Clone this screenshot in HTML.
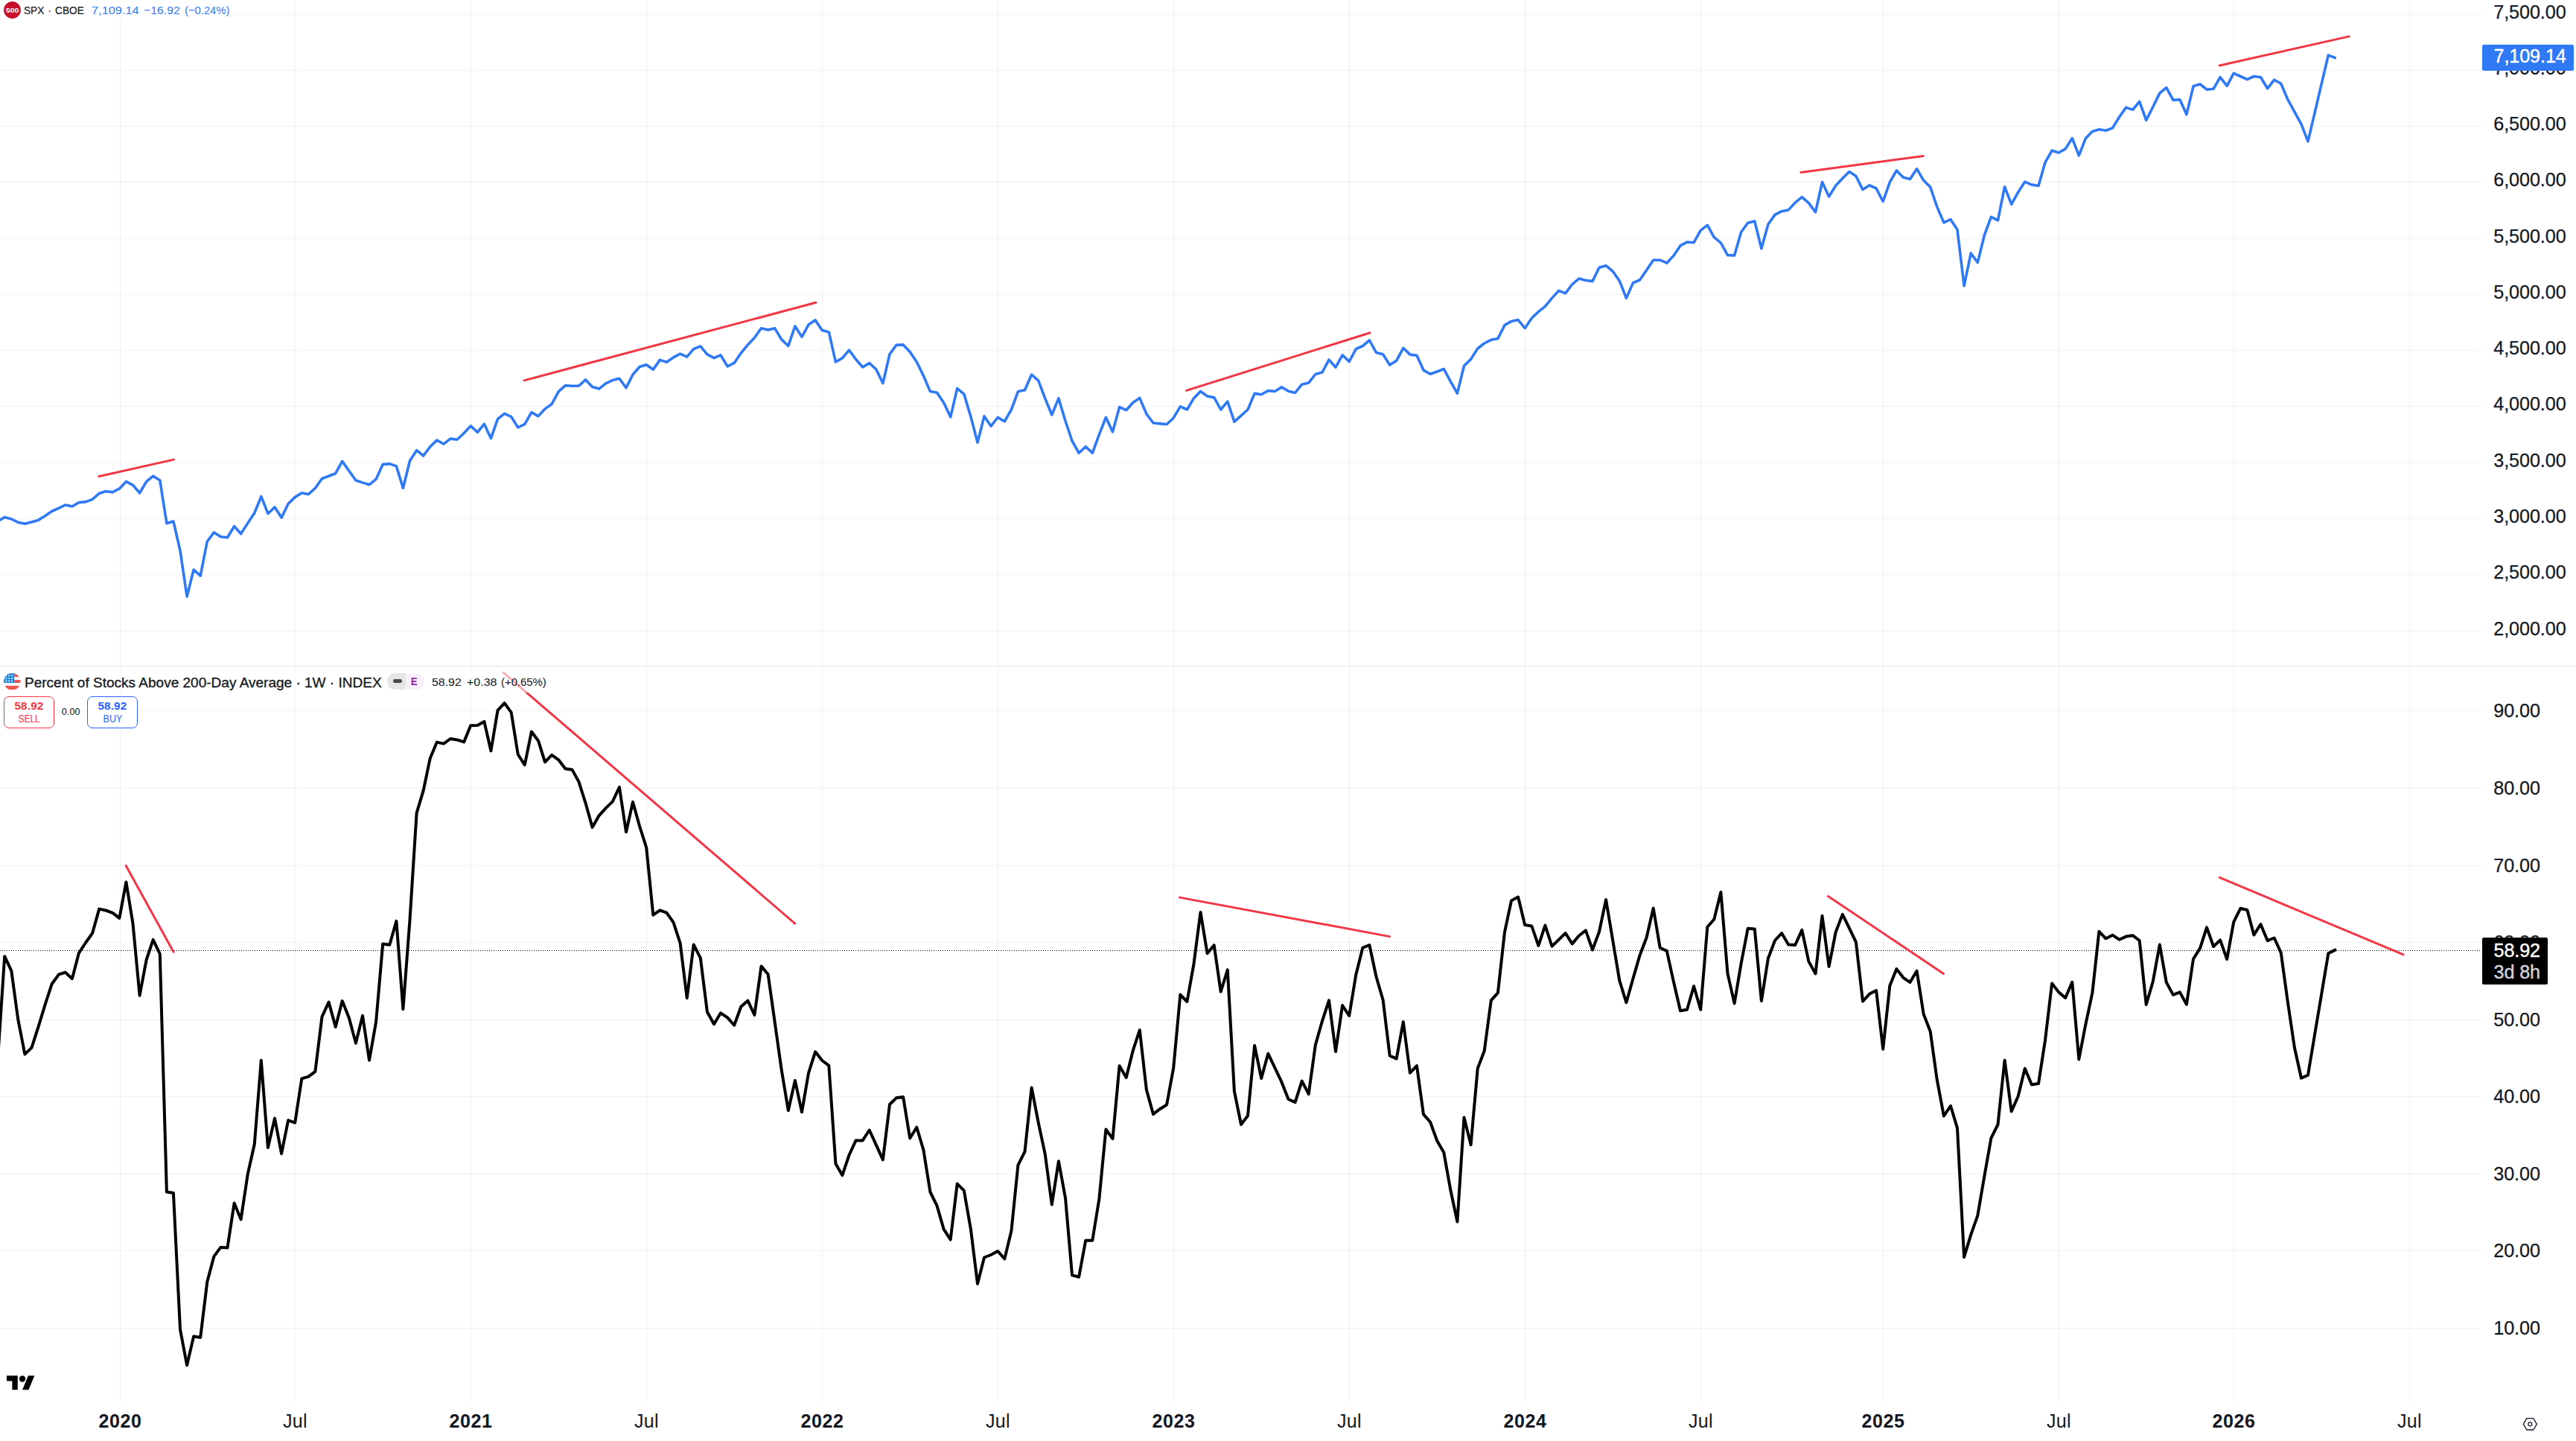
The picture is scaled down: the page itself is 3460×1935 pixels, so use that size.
<!DOCTYPE html>
<html lang="en"><head><meta charset="utf-8"><title>SPX vs Percent of Stocks Above 200-Day Average</title>
<style>
html,body{margin:0;padding:0;background:#fff;}
body{width:3460px;height:1935px;overflow:hidden;position:relative;font-family:"Liberation Sans",sans-serif;color:#131722;}
#chart{position:absolute;left:0;top:0;width:3460px;height:1935px;}
.pl{position:absolute;left:3349.3px;font-size:25.2px;line-height:30px;height:30px;white-space:nowrap;letter-spacing:-0.1px;-webkit-text-stroke:0.25px #131722;}
.tl{position:absolute;top:1893px;width:200px;margin-left:-100px;text-align:center;font-size:25px;line-height:30px;white-space:nowrap;letter-spacing:0.3px;}
.tl.y{font-weight:bold;letter-spacing:0.6px;}
.badge{position:absolute;left:3334px;color:#fff;font-size:25.2px;border-radius:2px;box-sizing:border-box;white-space:nowrap;letter-spacing:-0.1px;-webkit-text-stroke:0.4px currentColor;}
.leg{position:absolute;white-space:nowrap;}
.sx{display:inline-block;transform-origin:0 50%;}
.cx{display:inline-block;transform-origin:50% 50%;}
</style></head><body>
<svg id="chart" width="3460" height="1935" viewBox="0 0 3460 1935">
<g fill="rgba(42,46,57,0.065)">
<rect x="161" y="0" width="1" height="1884"/>
<rect x="396" y="0" width="1" height="1884"/>
<rect x="632" y="0" width="1" height="1884"/>
<rect x="868" y="0" width="1" height="1884"/>
<rect x="1104" y="0" width="1" height="1884"/>
<rect x="1340" y="0" width="1" height="1884"/>
<rect x="1576" y="0" width="1" height="1884"/>
<rect x="1812" y="0" width="1" height="1884"/>
<rect x="2048" y="0" width="1" height="1884"/>
<rect x="2284" y="0" width="1" height="1884"/>
<rect x="2529" y="0" width="1" height="1884"/>
<rect x="2765" y="0" width="1" height="1884"/>
<rect x="3000" y="0" width="1" height="1884"/>
<rect x="3236" y="0" width="1" height="1884"/>
<rect x="0" y="19" width="3333" height="1"/>
<rect x="0" y="94" width="3333" height="1"/>
<rect x="0" y="169" width="3333" height="1"/>
<rect x="0" y="244" width="3333" height="1"/>
<rect x="0" y="320" width="3333" height="1"/>
<rect x="0" y="395" width="3333" height="1"/>
<rect x="0" y="470" width="3333" height="1"/>
<rect x="0" y="545" width="3333" height="1"/>
<rect x="0" y="621" width="3333" height="1"/>
<rect x="0" y="696" width="3333" height="1"/>
<rect x="0" y="771" width="3333" height="1"/>
<rect x="0" y="847" width="3333" height="1"/>
<rect x="0" y="954" width="3333" height="1"/>
<rect x="0" y="1058" width="3333" height="1"/>
<rect x="0" y="1162" width="3333" height="1"/>
<rect x="0" y="1265" width="3333" height="1"/>
<rect x="0" y="1369" width="3333" height="1"/>
<rect x="0" y="1472" width="3333" height="1"/>
<rect x="0" y="1576" width="3333" height="1"/>
<rect x="0" y="1679" width="3333" height="1"/>
<rect x="0" y="1783" width="3333" height="1"/>
</g>
<rect x="0" y="894" width="3460" height="1" fill="#E0E3EB"/>
<line x1="0" y1="1276.5" x2="3333" y2="1276.5" stroke="#000" stroke-width="1" stroke-dasharray="1 2" shape-rendering="crispEdges"/>
<polyline fill="none" stroke="#2F79F5" stroke-width="3.6" stroke-linejoin="round" stroke-linecap="round" points="-2.9,699.8 6.2,694.6 15.3,697.0 24.3,701.4 33.4,703.3 42.5,700.9 51.5,698.4 60.6,692.8 69.7,686.5 78.8,682.3 87.8,678.1 96.9,680.0 106.0,674.8 115.0,673.9 124.1,670.6 133.2,662.5 142.2,659.7 151.3,660.9 160.4,656.2 169.4,646.7 178.5,651.3 187.6,662.0 196.7,646.7 205.7,639.2 214.8,645.0 223.9,702.8 232.9,700.0 242.0,739.4 251.1,801.1 260.1,765.0 269.2,773.1 278.3,727.2 287.4,714.9 296.4,720.7 305.5,721.7 314.6,706.8 323.6,716.8 332.7,702.6 341.8,688.8 350.8,666.7 359.9,689.7 369.0,681.1 378.1,695.1 387.1,676.5 396.2,667.6 405.3,662.0 414.4,663.7 423.4,655.5 432.5,642.7 441.6,639.2 450.7,635.7 459.7,619.4 468.8,632.2 477.9,645.0 487.0,648.1 496.0,650.8 505.1,643.4 514.2,623.6 523.3,622.9 532.4,625.9 541.4,655.5 550.5,618.7 559.6,604.7 568.7,612.0 577.7,599.9 586.8,591.0 595.9,596.1 605.0,589.1 614.0,590.3 623.1,581.7 632.2,571.9 641.3,580.5 650.4,569.3 659.4,588.7 668.5,562.6 677.6,555.4 686.7,559.6 695.7,574.0 704.8,569.6 713.9,553.7 723.0,558.9 732.0,549.1 741.1,542.6 750.2,525.8 759.3,517.6 768.4,518.3 777.4,518.3 786.5,509.9 795.6,519.5 804.7,522.1 813.7,514.8 822.8,510.6 831.9,508.3 841.0,520.7 850.0,503.0 859.1,492.5 868.2,489.7 877.3,496.2 886.4,483.4 895.4,486.2 904.5,479.9 913.6,475.2 922.7,479.2 931.7,468.7 940.8,464.8 949.9,475.9 959.0,480.6 968.0,476.9 977.1,492.0 986.2,487.4 995.3,474.1 1004.4,462.9 1013.4,453.6 1022.5,440.8 1031.6,443.1 1040.7,440.8 1049.7,455.9 1058.8,464.5 1067.9,438.0 1077.0,452.4 1086.0,436.1 1095.1,429.8 1104.2,443.6 1113.3,445.9 1122.4,486.0 1131.4,480.9 1140.5,470.1 1149.6,482.5 1158.7,493.0 1167.7,487.6 1176.8,496.0 1185.9,514.6 1195.0,475.5 1204.0,463.4 1213.1,462.9 1222.2,472.5 1231.3,486.0 1240.4,504.6 1249.4,525.6 1258.5,527.2 1267.6,540.7 1276.7,560.1 1285.7,521.6 1294.8,529.1 1303.9,559.4 1313.0,594.3 1322.0,558.9 1331.1,572.2 1340.2,560.5 1349.3,565.9 1358.4,550.0 1367.4,525.8 1376.5,523.7 1385.6,503.0 1394.7,511.1 1403.7,534.9 1412.8,557.0 1421.9,534.9 1431.0,565.2 1440.0,592.0 1449.1,608.3 1458.2,599.7 1467.3,608.3 1476.4,583.4 1485.4,560.5 1494.5,579.9 1503.6,546.6 1512.7,550.7 1521.7,540.7 1530.8,534.4 1539.9,555.9 1549.0,568.0 1558.0,568.9 1567.1,569.8 1576.2,561.2 1585.3,545.9 1594.4,550.0 1603.4,534.9 1612.5,525.6 1621.6,531.9 1630.7,533.7 1639.7,550.0 1648.8,539.1 1657.9,566.3 1667.0,558.2 1676.0,550.0 1685.1,528.4 1694.2,529.7 1703.3,524.6 1712.4,525.5 1721.4,519.9 1730.5,525.3 1739.6,527.4 1748.7,516.2 1757.7,514.1 1766.8,502.5 1775.9,500.1 1785.0,483.1 1794.0,493.2 1803.1,476.8 1812.2,485.5 1821.3,468.7 1830.4,464.5 1839.4,457.0 1848.5,473.4 1857.6,475.7 1866.7,490.1 1875.7,484.3 1884.8,467.3 1893.9,476.1 1903.0,477.3 1912.0,497.1 1921.1,502.2 1930.2,499.0 1939.3,495.5 1948.4,512.3 1957.4,528.1 1966.5,491.3 1975.6,482.4 1984.7,468.0 1993.7,461.0 2002.8,456.3 2011.9,454.7 2021.0,436.6 2030.0,431.4 2039.1,429.6 2048.2,440.7 2057.3,427.2 2066.4,418.6 2075.4,411.4 2084.5,400.4 2093.6,390.4 2102.7,393.9 2111.7,381.8 2120.8,374.1 2129.9,376.5 2139.0,377.6 2148.0,359.2 2157.1,356.7 2166.2,364.3 2175.3,377.2 2184.4,400.4 2193.4,379.9 2202.5,376.0 2211.6,362.7 2220.7,349.2 2229.7,349.2 2238.8,353.2 2247.9,343.4 2257.0,329.9 2266.0,325.0 2275.1,325.7 2284.2,309.4 2293.3,302.4 2302.3,318.7 2311.4,326.1 2320.5,342.7 2329.6,342.9 2338.6,311.7 2347.7,299.3 2356.8,297.0 2365.9,333.8 2374.9,301.2 2384.0,288.4 2393.1,283.7 2402.2,281.9 2411.2,272.1 2420.3,264.6 2429.4,272.6 2438.5,284.9 2447.5,244.6 2456.6,263.9 2465.7,249.3 2474.8,239.5 2483.8,230.6 2492.9,236.5 2502.0,254.6 2511.1,248.8 2520.1,253.0 2529.2,270.5 2538.3,244.6 2547.4,229.0 2556.4,238.3 2565.5,240.6 2574.6,226.7 2583.7,242.3 2592.7,251.1 2601.8,277.9 2610.9,298.9 2620.0,294.7 2629.0,308.2 2638.1,383.9 2647.2,340.1 2656.3,352.5 2665.4,315.7 2674.4,291.4 2683.5,295.9 2692.6,250.7 2701.7,274.4 2710.7,258.1 2719.8,244.1 2728.9,248.1 2738.0,249.5 2747.0,218.1 2756.1,202.2 2765.2,205.0 2774.2,199.9 2783.3,185.7 2792.3,208.9 2801.4,185.7 2810.4,176.6 2819.4,173.8 2828.5,175.2 2837.5,171.9 2846.5,157.2 2855.6,144.4 2864.6,147.4 2873.7,136.3 2882.7,161.4 2891.7,143.7 2900.8,125.1 2909.8,117.6 2918.9,134.4 2927.9,133.7 2936.9,153.7 2946.0,115.8 2955.0,113.0 2964.0,120.2 2973.1,119.3 2982.1,103.7 2991.2,115.3 3000.2,98.3 3009.3,102.5 3018.4,106.7 3027.4,102.5 3036.5,103.7 3045.6,118.8 3054.7,107.2 3063.7,112.3 3072.8,133.5 3081.9,150.2 3091.0,166.6 3100.0,189.8 3109.1,151.4 3118.2,112.7 3127.3,74.1 3136.4,77.6"/>
<polyline fill="none" stroke="#000" stroke-width="4.0" stroke-linejoin="round" stroke-linecap="round" points="-2.9,1421.0 6.2,1284.2 15.3,1303.6 24.3,1369.4 33.4,1415.6 42.5,1406.9 51.5,1378.9 60.6,1349.0 69.7,1321.2 78.8,1308.7 87.8,1305.7 96.9,1314.2 106.0,1279.6 115.0,1266.0 124.1,1253.2 133.2,1220.6 142.2,1222.5 151.3,1225.8 160.4,1232.8 169.4,1184.4 178.5,1240.2 187.6,1336.7 196.7,1288.6 205.7,1261.9 214.8,1281.0 223.9,1600.6 232.9,1602.0 242.0,1785.1 251.1,1833.2 260.1,1794.6 269.2,1796.0 278.3,1721.2 287.4,1687.1 296.4,1674.9 305.5,1675.5 314.6,1615.6 323.6,1637.4 332.7,1577.0 341.8,1536.2 350.8,1423.8 359.9,1541.1 369.0,1501.6 378.1,1549.2 387.1,1504.3 396.2,1507.6 405.3,1448.3 414.4,1445.6 423.4,1438.8 432.5,1365.3 441.6,1345.7 450.7,1378.9 459.7,1344.1 468.8,1366.7 477.9,1400.7 487.0,1363.9 496.0,1423.8 505.1,1372.1 514.2,1267.4 523.3,1268.7 532.4,1236.9 541.4,1355.0 550.5,1235.0 559.6,1091.9 568.7,1061.4 577.7,1018.4 586.8,996.6 595.9,998.6 605.0,992.0 614.0,993.4 623.1,996.4 632.2,974.3 641.3,974.1 650.4,968.9 659.4,1008.3 668.5,953.9 677.6,944.1 686.7,956.7 695.7,1013.0 704.8,1027.1 713.9,982.5 723.0,994.7 732.0,1023.3 741.1,1013.8 750.2,1020.3 759.3,1032.3 768.4,1033.4 777.4,1049.7 786.5,1078.3 795.6,1110.9 804.7,1095.1 813.7,1085.1 822.8,1076.4 831.9,1057.0 841.0,1117.2 850.0,1076.9 859.1,1109.5 868.2,1138.1 877.3,1228.7 886.4,1222.4 895.4,1225.7 904.5,1238.7 913.6,1266.4 922.7,1340.2 931.7,1268.5 940.8,1286.3 949.9,1358.8 959.0,1375.2 968.0,1360.3 977.1,1366.4 986.2,1376.7 995.3,1351.8 1004.4,1343.7 1013.4,1362.9 1022.5,1297.4 1031.6,1308.3 1040.7,1372.8 1049.7,1436.7 1058.8,1491.2 1067.9,1450.9 1077.0,1493.3 1086.0,1440.8 1095.1,1412.3 1104.2,1424.0 1113.3,1430.8 1122.4,1562.4 1131.4,1578.2 1140.5,1551.0 1149.6,1531.4 1158.7,1531.4 1167.7,1517.5 1176.8,1537.4 1185.9,1557.3 1195.0,1483.0 1204.0,1474.3 1213.1,1472.9 1222.2,1528.4 1231.3,1513.7 1240.4,1544.2 1249.4,1600.5 1258.5,1619.1 1267.6,1650.6 1276.7,1664.6 1285.7,1589.6 1294.8,1598.7 1303.9,1650.6 1313.0,1724.1 1322.0,1688.5 1331.1,1685.0 1340.2,1680.0 1349.3,1690.5 1358.4,1653.0 1367.4,1564.6 1376.5,1546.4 1385.6,1460.4 1394.7,1507.5 1403.7,1549.6 1412.8,1617.4 1421.9,1559.2 1431.0,1608.7 1440.0,1712.4 1449.1,1714.8 1458.2,1665.8 1467.3,1665.8 1476.4,1609.8 1485.4,1516.5 1494.5,1529.2 1503.6,1431.3 1512.7,1447.1 1521.7,1410.9 1530.8,1383.2 1539.9,1463.4 1549.0,1496.1 1558.0,1489.2 1567.1,1483.5 1576.2,1434.0 1585.3,1335.6 1594.4,1345.0 1603.4,1294.8 1612.5,1224.9 1621.6,1280.3 1630.7,1269.2 1639.7,1331.6 1648.8,1302.4 1657.9,1465.3 1667.0,1510.0 1676.0,1498.3 1685.1,1403.9 1694.2,1448.0 1703.3,1414.8 1712.4,1433.9 1721.4,1452.9 1730.5,1476.0 1739.6,1480.1 1748.7,1451.6 1757.7,1469.2 1766.8,1403.4 1775.9,1371.3 1785.0,1343.3 1794.0,1412.1 1803.1,1350.1 1812.2,1364.0 1821.3,1308.7 1830.4,1272.6 1839.4,1269.0 1848.5,1311.5 1857.6,1342.7 1866.7,1417.6 1875.7,1421.6 1884.8,1372.1 1893.9,1440.7 1903.0,1431.2 1912.0,1496.4 1921.1,1506.8 1930.2,1531.8 1939.3,1547.6 1948.4,1598.5 1957.4,1640.5 1966.5,1500.5 1975.6,1537.2 1984.7,1434.7 1993.7,1411.3 2002.8,1343.3 2011.9,1333.2 2021.0,1251.6 2030.0,1209.4 2039.1,1204.5 2048.2,1242.1 2057.3,1243.4 2066.4,1269.8 2075.4,1242.6 2084.5,1270.7 2093.6,1261.9 2102.7,1253.0 2111.7,1267.4 2120.8,1256.5 2129.9,1249.4 2139.0,1275.5 2148.0,1251.1 2157.1,1208.1 2166.2,1262.5 2175.3,1316.9 2184.4,1346.3 2193.4,1314.2 2202.5,1282.9 2211.6,1259.0 2220.7,1219.5 2229.7,1272.8 2238.8,1276.9 2247.9,1318.3 2257.0,1357.2 2266.0,1355.8 2275.1,1324.2 2284.2,1355.8 2293.3,1244.8 2302.3,1234.5 2311.4,1198.0 2320.5,1307.4 2329.6,1347.4 2338.6,1293.8 2347.7,1246.7 2356.8,1247.5 2365.9,1344.1 2374.9,1287.0 2384.0,1263.0 2393.1,1253.0 2402.2,1268.5 2411.2,1269.0 2420.3,1248.9 2429.4,1291.1 2438.5,1307.4 2447.5,1229.8 2456.6,1297.9 2465.7,1251.6 2474.8,1227.9 2483.8,1246.2 2492.9,1265.2 2502.0,1344.6 2511.1,1334.6 2520.1,1330.0 2529.2,1408.8 2538.3,1323.7 2547.4,1301.1 2556.4,1312.8 2565.5,1319.1 2574.6,1303.8 2583.7,1361.8 2592.7,1384.9 2601.8,1450.2 2610.9,1498.6 2620.0,1485.0 2629.0,1514.9 2638.1,1688.2 2647.2,1658.2 2656.3,1632.4 2665.4,1579.1 2674.4,1528.3 2683.5,1510.0 2692.6,1423.8 2701.7,1492.4 2710.7,1472.0 2719.8,1434.7 2728.9,1456.5 2738.0,1455.1 2747.0,1397.1 2756.1,1320.4 2765.2,1332.4 2774.2,1340.0 2783.3,1318.8 2792.3,1422.4 2801.4,1375.4 2810.4,1333.2 2819.4,1250.8 2828.5,1260.3 2837.5,1255.7 2846.5,1261.7 2855.6,1257.6 2864.6,1256.2 2873.7,1263.0 2882.7,1349.0 2891.7,1318.3 2900.8,1268.5 2909.8,1319.1 2918.9,1335.9 2927.9,1332.4 2936.9,1348.7 2946.0,1287.8 2955.0,1273.4 2964.0,1245.4 2973.1,1271.0 2982.1,1262.4 2991.2,1288.0 3000.2,1238.1 3009.3,1219.8 3018.4,1222.0 3027.4,1255.4 3036.5,1241.2 3045.6,1263.1 3054.7,1259.5 3063.7,1279.3 3072.8,1345.3 3081.9,1406.7 3091.0,1447.7 3100.0,1443.6 3109.1,1389.0 3118.2,1334.9 3127.3,1280.3 3136.4,1275.6"/>
<g stroke="#F23645" stroke-width="3.0" stroke-linecap="round">
<line x1="132.8" y1="639.7" x2="233.4" y2="617.1"/>
<line x1="704.0" y1="510.9" x2="1095.8" y2="406.3"/>
<line x1="1593.6" y1="524.4" x2="1839.8" y2="447.0"/>
<line x1="2418.9" y1="231.6" x2="2583.3" y2="209.4"/>
<line x1="2981.3" y1="88.0" x2="3155.3" y2="48.9"/>
<line x1="169.2" y1="1162.6" x2="233.1" y2="1278.3"/>
<line x1="676.3" y1="903.3" x2="1067.7" y2="1240.1"/>
<line x1="1584.5" y1="1205.1" x2="1866.7" y2="1257.6"/>
<line x1="2455.5" y1="1203.5" x2="2610.5" y2="1307.4"/>
<line x1="2981.4" y1="1178.3" x2="3228.0" y2="1281.8"/>
</g>
</svg>
<div class="pl" style="top:1.35px">7,500.00</div>
<div class="pl" style="top:76.35px">7,000.00</div>
<div class="pl" style="top:151.35px">6,500.00</div>
<div class="pl" style="top:226.35px">6,000.00</div>
<div class="pl" style="top:302.35px">5,500.00</div>
<div class="pl" style="top:377.35px">5,000.00</div>
<div class="pl" style="top:452.35px">4,500.00</div>
<div class="pl" style="top:527.35px">4,000.00</div>
<div class="pl" style="top:603.35px">3,500.00</div>
<div class="pl" style="top:678.35px">3,000.00</div>
<div class="pl" style="top:753.35px">2,500.00</div>
<div class="pl" style="top:829.35px">2,000.00</div>
<div class="pl" style="top:939.15px">90.00</div>
<div class="pl" style="top:1043.15px">80.00</div>
<div class="pl" style="top:1147.15px">70.00</div>
<div class="pl" style="top:1250.15px">60.00</div>
<div class="pl" style="top:1354.15px">50.00</div>
<div class="pl" style="top:1457.15px">40.00</div>
<div class="pl" style="top:1561.15px">30.00</div>
<div class="pl" style="top:1664.15px">20.00</div>
<div class="pl" style="top:1768.15px">10.00</div>
<div class="tl y" style="left:161.5px">2020</div>
<div class="tl" style="left:396.5px">Jul</div>
<div class="tl y" style="left:632.5px">2021</div>
<div class="tl" style="left:868.5px">Jul</div>
<div class="tl y" style="left:1104.5px">2022</div>
<div class="tl" style="left:1340.5px">Jul</div>
<div class="tl y" style="left:1576.5px">2023</div>
<div class="tl" style="left:1812.5px">Jul</div>
<div class="tl y" style="left:2048.5px">2024</div>
<div class="tl" style="left:2284.5px">Jul</div>
<div class="tl y" style="left:2529.5px">2025</div>
<div class="tl" style="left:2765.5px">Jul</div>
<div class="tl y" style="left:3000.5px">2026</div>
<div class="tl" style="left:3236.5px">Jul</div>
<div class="badge" style="top:60px;width:122.6px;height:34.8px;background:#2F79F5;line-height:30px;padding-left:15.5px;padding-top:0.4px">7,109.14</div>
<div class="badge" style="top:1259.3px;width:88px;height:63.2px;background:#000;padding-left:15.5px;line-height:29px;padding-top:2.3px;"><div>58.92</div><div style="color:#d1d4dc">3d 8h</div></div>
<div class="leg" style="left:0;top:0;height:27px;width:314px;background:rgba(255,255,255,0.8)"></div>
<svg class="leg" style="left:4.9px;top:1.5px" width="23" height="23" viewBox="0 0 23 23"><circle cx="11.5" cy="11.5" r="11.45" fill="#C8102E"/><text x="2.9" y="14.7" textLength="17.3" lengthAdjust="spacingAndGlyphs" font-family="Liberation Sans, sans-serif" font-weight="bold" font-size="9.4" fill="#fff">500</text></svg>
<div class="leg" style="left:32.2px;top:4.3px;font-size:15.5px;line-height:20px;-webkit-text-stroke:0.2px #131722;"><span class="sx" id="l1" style="transform:scaleX(0.8810);word-spacing:1.5px">SPX · CBOE</span></div>
<div class="leg" style="left:0;top:4.4px;font-size:15.3px;line-height:20px;color:#2F79F5;"><span class="sx" id="a1" style="position:absolute;left:122.5px;transform:scaleX(1.0681)">7,109.14</span><span class="sx" id="a2" style="position:absolute;left:193px;transform:scaleX(1.0335)">−16.92</span><span class="sx" id="a3" style="position:absolute;left:247.7px;transform:scaleX(0.9664)">(−0.24%)</span></div>
<div class="leg" style="left:0;top:902px;height:28px;width:738px;background:rgba(255,255,255,0.6)"></div>
<svg class="leg" style="left:4.9px;top:903.6px" width="22.8" height="22.6" viewBox="0 0 23 23"><defs><clipPath id="fc"><circle cx="11.5" cy="11.5" r="11.5"/></clipPath></defs><g clip-path="url(#fc)"><rect width="23" height="23" fill="#F7F9FC"/><g fill="#EF5350"><rect x="0" y="0" width="23" height="5"/><rect x="0" y="9.15" width="23" height="4.05"/><rect x="0" y="17.2" width="23" height="5.8"/></g><rect x="0" y="0" width="14.2" height="13.2" fill="#1E88E5"/><g fill="#fff"><circle cx="3.3" cy="3.3" r="0.95"/><circle cx="7.2" cy="3.3" r="0.95"/><circle cx="11.2" cy="3.3" r="0.95"/><circle cx="3.3" cy="7.0" r="0.95"/><circle cx="7.2" cy="7.0" r="0.95"/><circle cx="11.2" cy="7.0" r="0.95"/><circle cx="3.3" cy="10.7" r="0.95"/><circle cx="7.2" cy="10.7" r="0.95"/><circle cx="11.2" cy="10.7" r="0.95"/></g></g></svg>
<div class="leg" style="left:32.6px;top:904.7px;font-size:18.6px;line-height:24px;-webkit-text-stroke:0.3px #131722;"><span class="sx" id="l3" style="transform:scaleX(1.0229)">Percent of Stocks Above 200-Day Average · 1W · INDEX</span></div>
<div class="leg" style="left:520.1px;top:904.1px;width:49.7px;height:21.8px;border-radius:11px;overflow:hidden;background:#F9F0FC;"><div style="position:absolute;left:0;top:0;width:24.9px;height:100%;background:#E6E6E6"></div><div style="position:absolute;left:7.8px;top:8.4px;width:12px;height:4.6px;border-radius:2.3px;background:#4A4A4A"></div><div style="position:absolute;left:24.9px;width:22px;top:0;text-align:center;font-size:15.4px;line-height:22.4px;font-weight:bold;color:#8E24AA;"><span class="cx" style="transform:scaleX(0.86)">E</span></div></div>
<div class="leg" style="left:0;top:904.9px;font-size:15.3px;line-height:22px;"><span class="sx" id="b1" style="position:absolute;left:580px;transform:scaleX(1.0371)">58.92</span><span class="sx" id="b2" style="position:absolute;left:627px;transform:scaleX(1.0434)">+0.38</span><span class="sx" id="b3" style="position:absolute;left:673px;transform:scaleX(0.9728)">(+0.65%)</span></div>
<div class="leg" style="left:4.9px;top:935.2px;width:68.1px;height:42.7px;box-sizing:border-box;border:1.3px solid #F23645;border-radius:7px;color:#F23645;text-align:center;background:#fff;"><div style="font-size:15.2px;font-weight:bold;line-height:18px;margin-top:2.8px;letter-spacing:0.2px;">58.92</div><div style="font-size:14px;line-height:17px;margin-top:0.5px"><span class="cx" style="transform:scaleX(0.85)">SELL</span></div></div>
<div class="leg" style="left:82.8px;top:946.1px;font-size:12.8px;line-height:20px;">0.00</div>
<div class="leg" style="left:117px;top:935.2px;width:67.8px;height:42.7px;box-sizing:border-box;border:1.3px solid #2962FF;border-radius:7px;color:#2962FF;text-align:center;background:#fff;"><div style="font-size:15.2px;font-weight:bold;line-height:18px;margin-top:2.8px;letter-spacing:0.2px;">58.92</div><div style="font-size:14px;line-height:17px;margin-top:0.5px"><span class="cx" style="transform:scaleX(0.89)">BUY</span></div></div>
<svg class="leg" style="left:8.7px;top:1843.4px" width="37.9" height="29.5" viewBox="0 0 36 28"><path d="M14 22H7V11H0V4h14v18zM28 22h-8l7.5-18h8L28 22z" fill="#000"/><circle cx="20" cy="8" r="4" fill="#000"/></svg>
<svg class="leg" style="left:3388px;top:1903px" width="21" height="19" viewBox="0 0 21 19"><polygon points="1.3,9.3 5.8,1.6 14.8,1.6 19.3,9.3 14.8,17 5.8,17" fill="none" stroke="#131722" stroke-width="1.3" stroke-linejoin="round"/><circle cx="10.3" cy="9.3" r="2.5" fill="none" stroke="#131722" stroke-width="1.3"/></svg>
</body></html>
